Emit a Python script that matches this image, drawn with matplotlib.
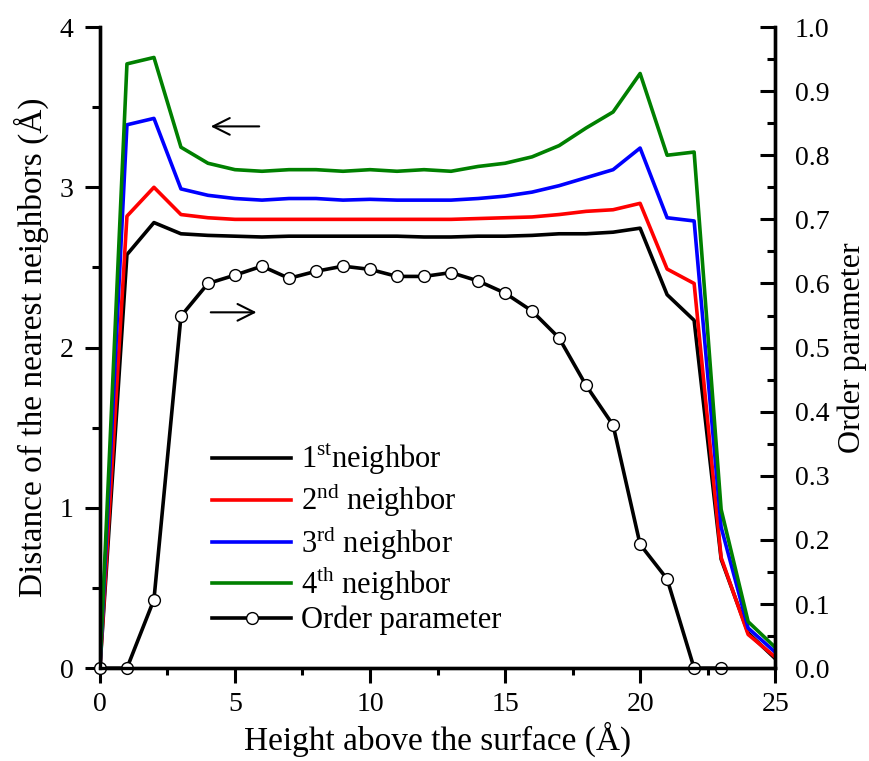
import matplotlib.pyplot as plt
from matplotlib.ticker import MultipleLocator

plt.rcParams['font.family'] = ['Liberation Serif', 'DejaVu Serif']
plt.rcParams['mathtext.fontset'] = 'custom'
plt.rcParams['mathtext.rm'] = 'Liberation Serif'

height = list(range(26))
first = [0, 2.58, 2.78, 2.71, 2.70, 2.695, 2.69, 2.695, 2.695, 2.695, 2.695, 2.695, 2.69, 2.69,
         2.695, 2.695, 2.70, 2.71, 2.71, 2.72, 2.745, 2.33, 2.17, 0.68, 0.22, 0.06]
second = [0, 2.82, 3.00, 2.83, 2.81, 2.80, 2.80, 2.80, 2.80, 2.80, 2.80, 2.80, 2.80, 2.80,
          2.805, 2.81, 2.815, 2.83, 2.85, 2.86, 2.90, 2.49, 2.40, 0.69, 0.21, 0.07]
third = [0, 3.39, 3.43, 2.99, 2.95, 2.93, 2.92, 2.93, 2.93, 2.92, 2.925, 2.92, 2.92, 2.92,
         2.93, 2.945, 2.97, 3.01, 3.06, 3.11, 3.245, 2.81, 2.79, 0.88, 0.25, 0.10]
fourth = [0, 3.77, 3.81, 3.25, 3.15, 3.11, 3.10, 3.11, 3.11, 3.10, 3.11, 3.10, 3.11, 3.10,
          3.13, 3.15, 3.19, 3.26, 3.37, 3.47, 3.71, 3.20, 3.22, 0.99, 0.29, 0.13]

order_x = list(range(24))
order = [0, 0, 0.107, 0.549, 0.600, 0.613, 0.627, 0.608, 0.619, 0.627, 0.622, 0.611, 0.611,
         0.617, 0.604, 0.585, 0.557, 0.515, 0.441, 0.379, 0.193, 0.139, 0, 0]

fig = plt.figure(figsize=(8.69, 7.61), dpi=100)
ax = fig.add_axes([0.115, 0.122, 0.777, 0.8425])
ax2 = ax.twinx()

lw = 2.6
ax.plot(height, first, color='black', lw=lw, label='1$^{\\mathrm{st}}$neighbor')
ax.plot(height, second, color='red', lw=lw, label='2$^{\\mathrm{nd}}$ neighbor')
ax.plot(height, third, color='blue', lw=lw, label='3$^{\\mathrm{rd}}$ neighbor')
ax.plot(height, fourth, color='green', lw=lw, label='4$^{\\mathrm{th}}$ neighbor')
ax2.plot(order_x, order, color='black', lw=lw, marker='o', ms=8.5, mfc='white', mec='black',
         mew=1, label='Order parameter', clip_on=False)

ax.set_xlim(0, 25)
ax.set_ylim(0, 4)
ax2.set_ylim(0, 1.0)

ax.xaxis.set_major_locator(MultipleLocator(5))
ax.xaxis.set_minor_locator(MultipleLocator(2.5))
ax.yaxis.set_major_locator(MultipleLocator(1))
ax.yaxis.set_minor_locator(MultipleLocator(0.5))
ax2.yaxis.set_major_locator(MultipleLocator(0.1))
ax2.yaxis.set_minor_locator(MultipleLocator(0.05))
ax2.yaxis.set_major_formatter(plt.FuncFormatter(lambda v, p: f'{v:.1f}'))

for a in (ax, ax2):
    for s in a.spines.values():
        s.set_linewidth(2.4)
    a.spines['top'].set_visible(False)

ax.tick_params(axis='x', which='major', direction='out', length=11, width=2.2, labelsize=20, pad=6)
ax.tick_params(axis='x', which='minor', direction='out', length=5, width=2.2)
ax.tick_params(axis='y', which='major', direction='out', length=11, width=2.2, labelsize=20, pad=8)
ax.tick_params(axis='y', which='minor', direction='out', length=6, width=2.2)
ax2.tick_params(axis='y', which='major', direction='in', length=11, width=2.2, labelsize=20, pad=14)
ax2.tick_params(axis='y', which='minor', direction='in', length=6, width=2.2)

ax.set_xlabel('Height above the surface (Å)', fontsize=24)
ax.set_ylabel('Distance of the nearest neighbors (Å)', fontsize=24)
ax2.set_ylabel('Order parameter', fontsize=23)
ax.xaxis.set_label_coords(0.5, -0.083)
ax.yaxis.set_label_coords(-0.076, 0.5)
ax2.yaxis.set_label_coords(1.092, 0.5)

ax.annotate('', xy=(4.0, 3.38), xytext=(6.0, 3.38),
            arrowprops=dict(arrowstyle='->', color='black', lw=1.5, mutation_scale=30))
ax.annotate('', xy=(5.9, 2.22), xytext=(4.0, 2.22),
            arrowprops=dict(arrowstyle='->', color='black', lw=1.5, mutation_scale=30))

h1, l1 = ax.get_legend_handles_labels()
h2, l2 = ax2.get_legend_handles_labels()
ax.legend(h1 + h2, l1 + l2, loc='lower left', bbox_to_anchor=(0.166, 0.051), frameon=False,
          fontsize=22, handlelength=2.6, labelspacing=0.1, handletextpad=0.3,
          borderaxespad=0, borderpad=0)

fig.savefig('out.png', dpi=100)
